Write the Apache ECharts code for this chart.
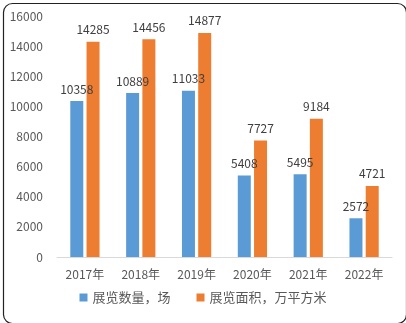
<!DOCTYPE html>
<html><head><meta charset="utf-8">
<script src="https://cdn.jsdelivr.net/npm/echarts@6/dist/echarts.min.js"></script>
<style>html,body{margin:0;padding:0;background:#fff}#c{width:406px;height:323px}</style>
</head><body><div id="c"></div>
<script>
const categories = ['2017年','2018年','2019年','2020年','2021年','2022年'];
const exhibitionCount = [10358,10889,11033,5408,5495,2572];
const exhibitionArea = [14285,14456,14877,7727,9184,4721];
const seriesNames = ['展览数量，场','展览面积，万平方米'];
const chart = echarts.init(document.getElementById('c'));
const font = '"Noto Sans CJK SC", "Microsoft YaHei", sans-serif';
chart.setOption({
  animation:false,
  textStyle:{fontFamily:font},
  graphic:[{type:'rect',left:1,top:1,shape:{width:403,height:320,r:9},style:{fill:'none',stroke:'#222',lineWidth:1.2},silent:true}],
  grid:{left:57,right:14,top:16,bottom:66},
  legend:{bottom:14,left:'center',itemWidth:8,itemHeight:8,itemGap:26,icon:'rect',
    textStyle:{color:'#595959',fontSize:13,fontFamily:font}},
  xAxis:{type:'category',data:categories,axisTick:{show:false},
    axisLine:{lineStyle:{color:'#d9d9d9'}},
    axisLabel:{color:'#595959',fontSize:12,margin:11,fontFamily:font}},
  yAxis:{type:'value',min:0,max:16000,interval:2000,splitLine:{show:false},
    axisLine:{show:false},axisTick:{show:false},
    axisLabel:{color:'#595959',fontSize:12,margin:14,fontFamily:font,formatter:function(v){return String(v);}}},
  series:[
    {name:seriesNames[0],type:'bar',data:exhibitionCount,barWidth:13,barGap:'25%',itemStyle:{color:'#5b9bd5'},
     label:{show:true,position:'top',color:'#404040',fontSize:12,distance:6}},
    {name:seriesNames[1],type:'bar',data:exhibitionArea,barWidth:13,itemStyle:{color:'#ed7d31'},
     label:{show:true,position:'top',color:'#404040',fontSize:12,distance:6}}
  ]
});
</script></body></html>
